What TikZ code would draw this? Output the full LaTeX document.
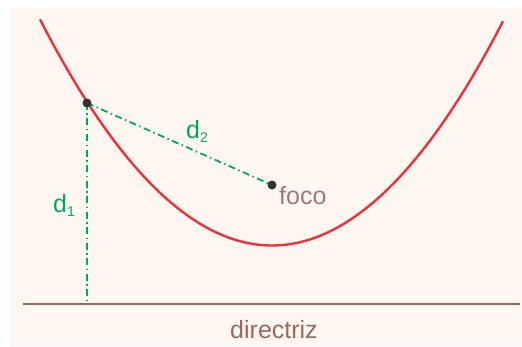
\documentclass[tikz,border=0pt]{standalone}
\usepackage{fontspec}
\setmainfont{Liberation Sans}
\definecolor{fondo}{HTML}{FEF6F1}
\definecolor{rojo}{HTML}{E8333A}
\definecolor{verde}{HTML}{00A85A}
\definecolor{cafe}{HTML}{9A6A5A}
\definecolor{malva}{HTML}{A07878}
\definecolor{oscuro}{HTML}{333333}
\usetikzlibrary{positioning, calc}
\newcommand{\sub}[1]{\raisebox{-4pt}{\fontsize{14}{14}\selectfont #1}}
\tikzset{
  curva/.style={draw=rojo, line width=2.4pt},
  recta/.style={draw=cafe, line width=2pt},
  dist/.style={draw=verde, line width=1.8pt,
    dash pattern=on 7pt off 3.5pt on 1.5pt off 3.5pt},
  punto/.style={circle, fill=oscuro, inner sep=0pt, minimum size=9pt},
  lbl/.style={font=\fontsize{25}{28}\selectfont, text=#1, inner sep=0pt},
  lbl/.default=verde,
}
\begin{document}
\begin{tikzpicture}[x=1pt, y=1pt]
  \useasboundingbox (0,0) rectangle (522,346);
  \fill[fondo] (10,0) rectangle (522,338);

  % directriz
  \coordinate (dirA) at (23,42);
  \coordinate (dirB) at (520,42);
  \draw[recta] (dirA) -- (dirB);
  \node[lbl=cafe] (dir) at (274,16) {directriz};

  % parabola
  \draw[curva] plot[domain=40:503, samples=80, smooth]
    (\x, {100.5 + ((\x-272)/15.427)^2});

  % distancias
  \coordinate (F) at (272,161);
  \coordinate (Q) at (87,243);
  \coordinate (pie) at (87,42);
  \draw[dist] (Q) -- (F);
  \draw[dist] (Q) -- (pie);

  % puntos
  \node[punto] (foco) at (F) {};
  \node[punto] (P) at (Q) {};

  \node[lbl=malva, anchor=west] (focolbl) at (279,150) {foco};
  \node[lbl] (d2) at (197,215) {d\sub{2}};
  \node[lbl] (d1) at (64,141) {d\sub{1}};
\end{tikzpicture}
\end{document}
